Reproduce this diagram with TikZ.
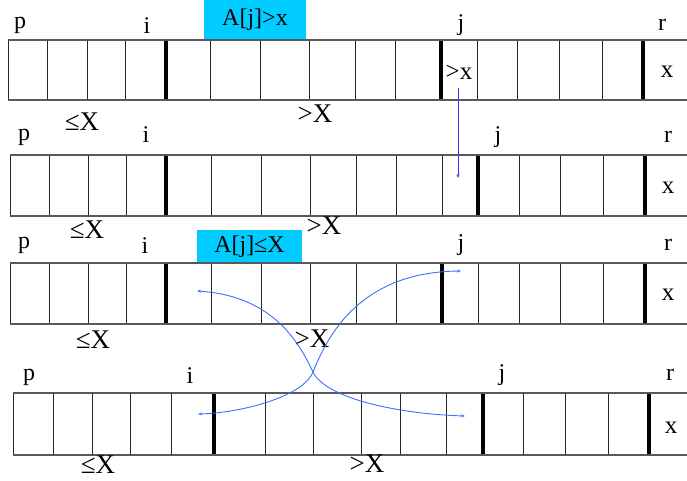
\documentclass[tikz,border=0pt]{standalone}
\usepackage{fontspec}
\setmainfont{Liberation Serif}
\usetikzlibrary{arrows.meta}

\definecolor{testcyan}{RGB}{0,204,255}
\definecolor{moveblue}{RGB}{51,51,255}
\definecolor{swapblue}{RGB}{60,110,255}

\begin{document}
\begin{tikzpicture}[
  x=1pt, y=-1pt,
  partcell/.style = {line width=0.9pt, black!85},
  partbar/.style = {line width=4pt, black},
  partrow/.style = {line width=1.3pt, black!65},
  partidx/.style = {font=\fontsize{24}{28}\selectfont, inner sep=0pt},
  partval/.style = {font=\fontsize{25}{30}\selectfont, inner sep=0pt},
  partbig/.style = {font=\fontsize{27}{32}\selectfont, inner sep=0pt},
  parttest/.style = {fill=testcyan, font=\fontsize{24}{28}\selectfont, inner sep=0pt},
  partmove/.style = {moveblue, line width=0.9pt, -{Stealth[length=4pt,width=3pt]}},
  partswap/.style = {swapblue, line width=0.9pt,
    {Stealth[length=4pt,width=3pt]}-{Stealth[length=4pt,width=3pt]}}
]
  \useasboundingbox (0,0) rectangle (687,481);

  % tests
  \node[parttest, minimum width=102pt, minimum height=39pt] (test1) at (255,19.5) {A[j]>x};
  \node[parttest, minimum width=105pt, minimum height=33pt] (test3) at (249.5,246.5) {A[j]≤X};

  % row 1
  \foreach \x in {8,47,87,125,210,260,309,355,395,477,517,559,602}
    \draw[partcell] (\x,40) -- (\x,100);
  \foreach \x in {166,441,643}
    \draw[partbar] (\x,40) -- (\x,100);
  \draw[partrow] (8,40) -- (687,40) (8,100) -- (687,100);
  \node[partidx] (p1) at (20,25) {p};
  \node[partidx] (i1) at (147,26) {i};
  \node[partidx] (j1) at (461,25) {j};
  \node[partidx] (r1) at (662,25) {r};
  \node[partval] (a1) at (459,72) {>x};
  \node[partval] (x1) at (667,72) {x};
  \node[partbig] (le1) at (82,122) {≤X};
  \node[partbig] (gt1) at (315,114) {>X};

  % row 2
  \foreach \x in {10,49,88,126,211,261,310,356,396,442,519,560,603}
    \draw[partcell] (\x,155) -- (\x,216);
  \foreach \x in {166,478,645}
    \draw[partbar] (\x,155) -- (\x,216);
  \draw[partrow] (10,155) -- (687,155) (10,216) -- (687,216);
  \node[partidx] (p2) at (24,137) {p};
  \node[partidx] (i2) at (146,135) {i};
  \node[partidx] (j2) at (498,137) {j};
  \node[partidx] (r2) at (668,137) {r};
  \node[partval] (x2) at (668,188) {x};
  \node[partbig] (le2) at (87,230) {≤X};
  \node[partbig] (gt2) at (324,226) {>X};

  % row 3
  \foreach \x in {10,49,88,126,211,261,310,356,396,478,519,560,603}
    \draw[partcell] (\x,263) -- (\x,324);
  \foreach \x in {166,442,645}
    \draw[partbar] (\x,263) -- (\x,324);
  \draw[partrow] (10,263) -- (687,263) (10,324) -- (687,324);
  \node[partidx] (p3) at (24,245) {p};
  \node[partidx] (i3) at (145,246) {i};
  \node[partidx] (j3) at (461,245) {j};
  \node[partidx] (r3) at (668,245) {r};
  \node[partval] (x3) at (668,295) {x};
  \node[partbig] (le3) at (93,340) {≤X};
  \node[partbig] (gt3) at (312,339) {>X};

  % row 4
  \foreach \x in {13,53,92,130,171,265,313,361,400,446,523,565,608}
    \draw[partcell] (\x,393) -- (\x,455);
  \foreach \x in {214,483,649}
    \draw[partbar] (\x,393) -- (\x,455);
  \draw[partrow] (13,393) -- (687,393) (13,455) -- (687,455);
  \node[partidx] (p4) at (29,377) {p};
  \node[partidx] (i4) at (190,376) {i};
  \node[partidx] (j4) at (502,375) {j};
  \node[partidx] (r4) at (670,375) {r};
  \node[partval] (x4) at (671,428) {x};
  \node[partbig] (le4) at (98,465) {≤X};
  \node[partbig] (gt4) at (367,464) {>X};

  % moves
  \coordinate (movefrom) at (458,88);
  \coordinate (moveto) at (458,178);
  \draw[partmove] (movefrom) -- (moveto);

  % swap
  \coordinate (swapi) at (197,291);
  \coordinate (swapj) at (461,271);
  \coordinate (swapi4) at (198,414);
  \coordinate (swapj4) at (465,416);
  \coordinate (cross) at (313,372);
  \draw[partswap] (swapi) .. controls (275,296) and (300,345) .. (cross)
    .. controls (326,399) and (400,414) .. (swapj4);
  \draw[partswap] (swapj) .. controls (360,272) and (328,335) .. (cross)
    .. controls (303,397) and (240,413) .. (swapi4);
\end{tikzpicture}
\end{document}
